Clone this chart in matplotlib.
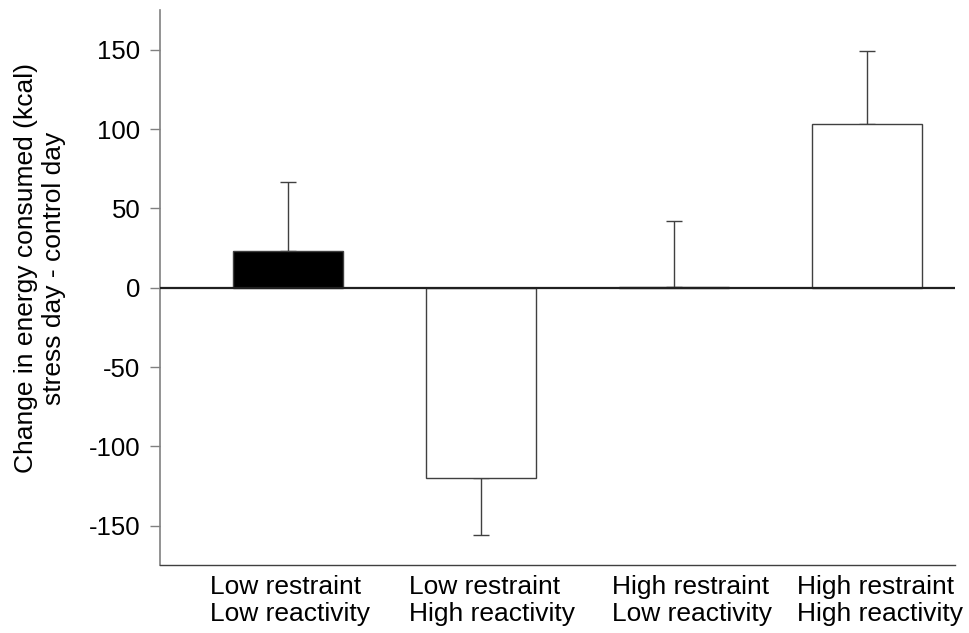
import matplotlib

matplotlib.use("Agg")
import matplotlib.pyplot as plt

plt.rcParams["font.family"] = ["Liberation Sans", "DejaVu Sans"]
plt.rcParams["axes.unicode_minus"] = False

# values
groups = [
    "Low restraint\nLow reactivity",
    "Low restraint\nHigh reactivity",
    "High restraint\nLow reactivity",
    "High restraint\nHigh reactivity",
]
change_kcal = [22.9, -120.0, 0.5, 103.2]
error_kcal = [43.5, 36.0, 41.7, 46.3]
bar_fill = ["black", "white", "white", "white"]
yticks = [-150, -100, -50, 0, 50, 100, 150]

fig = plt.figure(figsize=(9.69, 6.33), dpi=100)
ax = fig.add_axes([0.165, 0.107, 0.8205, 0.877])

x = list(range(len(groups)))
ax.bar(x, change_kcal, width=0.57, color=bar_fill, edgecolor="#404040",
       linewidth=1.0, zorder=2)

# one-sided error bars in the direction of each bar
lower = [e if v < 0 else 0 for v, e in zip(change_kcal, error_kcal)]
upper = [e if v >= 0 else 0 for v, e in zip(change_kcal, error_kcal)]
ax.errorbar(x, change_kcal, yerr=[lower, upper], fmt="none", ecolor="#404040",
            elinewidth=1.0, capsize=6, capthick=1.0, zorder=1)

ax.axhline(0, color="#202020", linewidth=1.6, zorder=3)

ax.set_xlim(-0.663, 3.456)
ax.set_ylim(-175, 175)
ax.set_yticks(yticks)
ax.set_yticklabels([str(t) for t in yticks], fontsize=18.5)
ax.tick_params(axis="y", direction="out", length=7, width=1, color="#808080", pad=7)
ax.set_xticks([])

# category labels sit left-aligned under each bar, like the original
label_shift = [-0.404, -0.373, -0.321, -0.363]
for xi, lab, dx in zip(x, groups, label_shift):
    ax.text(xi + dx, -0.018, lab, transform=ax.get_xaxis_transform(),
            ha="left", va="top", fontsize=19, linespacing=1.12)

fig.text(40 / 969, 1 - 268 / 633,
         "Change in energy consumed (kcal)\nstress day - control day",
         rotation=90, ha="center", va="center", fontsize=19,
         linespacing=1.2, multialignment="center")

for side in ["top", "right"]:
    ax.spines[side].set_visible(False)
ax.spines["left"].set_color("#808080")
ax.spines["left"].set_linewidth(1.2)
ax.spines["bottom"].set_color("#404040")
ax.spines["bottom"].set_linewidth(1.0)

fig.savefig("out.png", dpi=100)
